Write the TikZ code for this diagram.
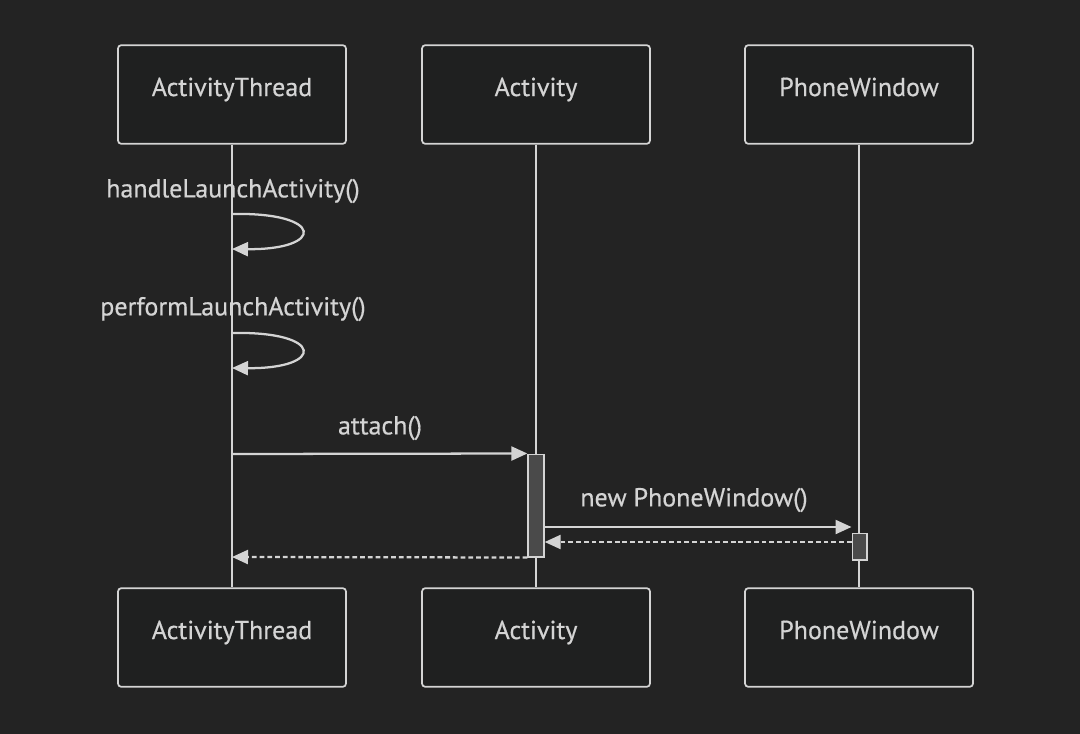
\documentclass[tikz,border=0pt]{standalone}
\usepackage{fontspec}
\setmainfont{PT Sans}[FakeBold=0.5]
\usetikzlibrary{arrows.meta}
\definecolor{bg}{HTML}{232323}
\definecolor{fg}{HTML}{D4D4D4}
\definecolor{boxfill}{HTML}{1F2020}
\definecolor{actfill}{HTML}{4A4A4A}
\begin{document}
\begin{tikzpicture}[x=0.75pt,y=-0.75pt,
  actor/.style={draw=fg,line width=1.3pt,fill=boxfill,rounded corners=2.5pt,minimum width=171pt,minimum height=74pt,inner sep=0pt,text=fg,font=\fontsize{19.5}{22}\selectfont,text height=12pt,text depth=9.7pt},
  life/.style={draw=fg,line width=1.9pt},
  msg/.style={draw=fg,line width=1.7pt,-{Triangle[length=12pt,width=10.5pt]},fill=none},
  ret/.style={msg,dash pattern=on 3.6pt off 2.2pt},
  lbl/.style={text=fg,font=\fontsize{19.5}{22}\selectfont,inner sep=0pt},
  act/.style={draw=fg,line width=1pt,fill=actfill,inner sep=0pt}]
\fill[bg] (0,0) rectangle (1080,734);
\useasboundingbox (0,0) rectangle (1080,734);
% top actors
\node[actor] (at1) at (232,94.5) {ActivityThread};
\node[actor] (ac1) at (536,94.5) {Activity};
\node[actor] (pw1) at (859,94.5) {PhoneWindow};
% bottom actors
\node[actor] (at2) at (232,637.5) {ActivityThread};
\node[actor] (ac2) at (536,637.5) {Activity};
\node[actor] (pw2) at (859,637.5) {PhoneWindow};
% lifelines
\draw[life] (at1.south) -- (at2.north);
\draw[life] (ac1.south) -- (ac2.north);
\draw[life] (pw1.south) -- (pw2.north);
% activations
\node[act,minimum width=12pt,minimum height=77pt] (acA) at (536,505.5) {};
\node[act,minimum width=11pt,minimum height=20pt] (pwA) at (859.5,546.5) {};
% self messages
\coordinate (h1) at (232,214);
\coordinate (h2) at (232,249);
\draw[msg] (h1) .. controls (325,212) and (325,250) .. (h2);
\node[lbl] (hl) at (233,191) {handleLaunchActivity()};
\coordinate (p1) at (232,333);
\coordinate (p2) at (232,368);
\draw[msg] (p1) .. controls (325,331) and (325,369) .. (p2);
\node[lbl] (pl) at (233,309) {performLaunchActivity()};
% attach
\coordinate (a1) at (232,454);
\draw[msg] (a1) -- (acA.north west);
\node[lbl] (al) at (380,428) {attach()};
% new PhoneWindow
\coordinate (n1) at (acA.east |- 0,527);
\coordinate (n2) at (pwA.west |- 0,527);
\draw[msg] (n1) -- (n2);
\node[lbl] (nl) at (694,500) {new PhoneWindow()};
% returns
\coordinate (r1) at (pwA.west |- 0,542);
\coordinate (r2) at (acA.east |- 0,542);
\draw[ret] (r1) -- (r2);
\coordinate (s1) at (acA.south west);
\coordinate (s2) at (232,557);
\draw[ret] (s1) -- (s2);
\end{tikzpicture}
\end{document}
